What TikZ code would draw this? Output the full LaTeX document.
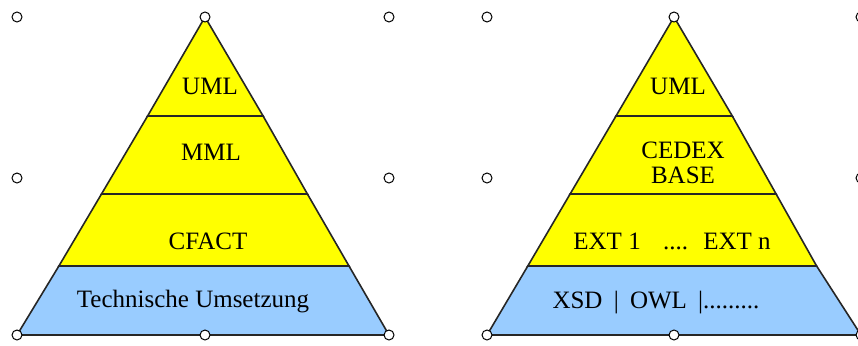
\documentclass[tikz,border=0pt]{standalone}
\usepackage{fontspec}
\setmainfont{Liberation Serif}
\begin{document}
\begin{tikzpicture}[x=1pt,y=-1pt,
  layer/.style={draw=black!85, line width=1.6pt, line join=miter},
  yel/.style={layer, fill={rgb,255:red,255;green,255;blue,0}},
  blu/.style={layer, fill={rgb,255:red,153;green,204;blue,255}},
  lbl/.style={font=\fontsize{25}{28}\selectfont, inner sep=0pt, align=center},
  handle/.style={circle, draw=black, fill=white, line width=1pt, minimum size=10pt, inner sep=0pt}]
\useasboundingbox (0,0) rectangle (858,345);
% left pyramid: apex (205,17), base (17,335)-(389,335)
\coordinate (LA) at (205,17);
\coordinate (LBl) at (17,335);
\coordinate (LBr) at (389,335);
\draw[yel] (LA) -- (147.6,116) -- (263.1,116) -- cycle;
\draw[yel] (147.6,116) -- (101.5,194) -- (307.4,194) -- (263.1,116) -- cycle;
\draw[yel] (101.5,194) -- (58.9,266) -- (349.0,266) -- (307.4,194) -- cycle;
\draw[blu] (58.9,266) -- (LBl) -- (LBr) -- (349.0,266) -- cycle;
\node[lbl] (l1) at (210,86) {UML};
\node[lbl] (l2) at (211,152) {MML};
\node[lbl] (l3) at (208,241) {CFACT};
\node[lbl] (l4) at (193,302) {Technische Umsetzung};
% right pyramid: apex (674,17), base (487,335)-(861,335)
\coordinate (RA) at (674,17);
\coordinate (RBl) at (487,335);
\coordinate (RBr) at (861,335);
\draw[yel] (RA) -- (616.0,116) -- (732.3,116) -- cycle;
\draw[yel] (616.0,116) -- (570.1,194) -- (776.1,194) -- (732.3,116) -- cycle;
\draw[yel] (570.1,194) -- (527.8,266) -- (816.6,266) -- (776.1,194) -- cycle;
\draw[blu] (527.8,266) -- (RBl) -- (RBr) -- (816.6,266) -- cycle;
\node[lbl] (r1) at (678,86) {UML};
\node[lbl] (r2) at (683,163) {CEDEX\\[-3pt]BASE};
\node[lbl] (r3) at (672,241) {EXT 1\hspace{0.9em}....\hspace{0.6em}EXT n};
\node[lbl] (r4) at (656,303) {XSD\hspace{0.45em}|\hspace{0.45em}OWL\hspace{0.45em}|.........};
% selection handles
\foreach \n/\x/\y in {a/17/17,b/205/17,c/389/17,d/17/178,e/389/178,f/17/335,g/205/335,h/389/335,
  i/487/17,j/674/17,k/861/17,l/487/178,m/861/178,n/487/335,o/674/335,p/861/335}
  \node[handle] (h\n) at (\x,\y) {};
\end{tikzpicture}
\end{document}
